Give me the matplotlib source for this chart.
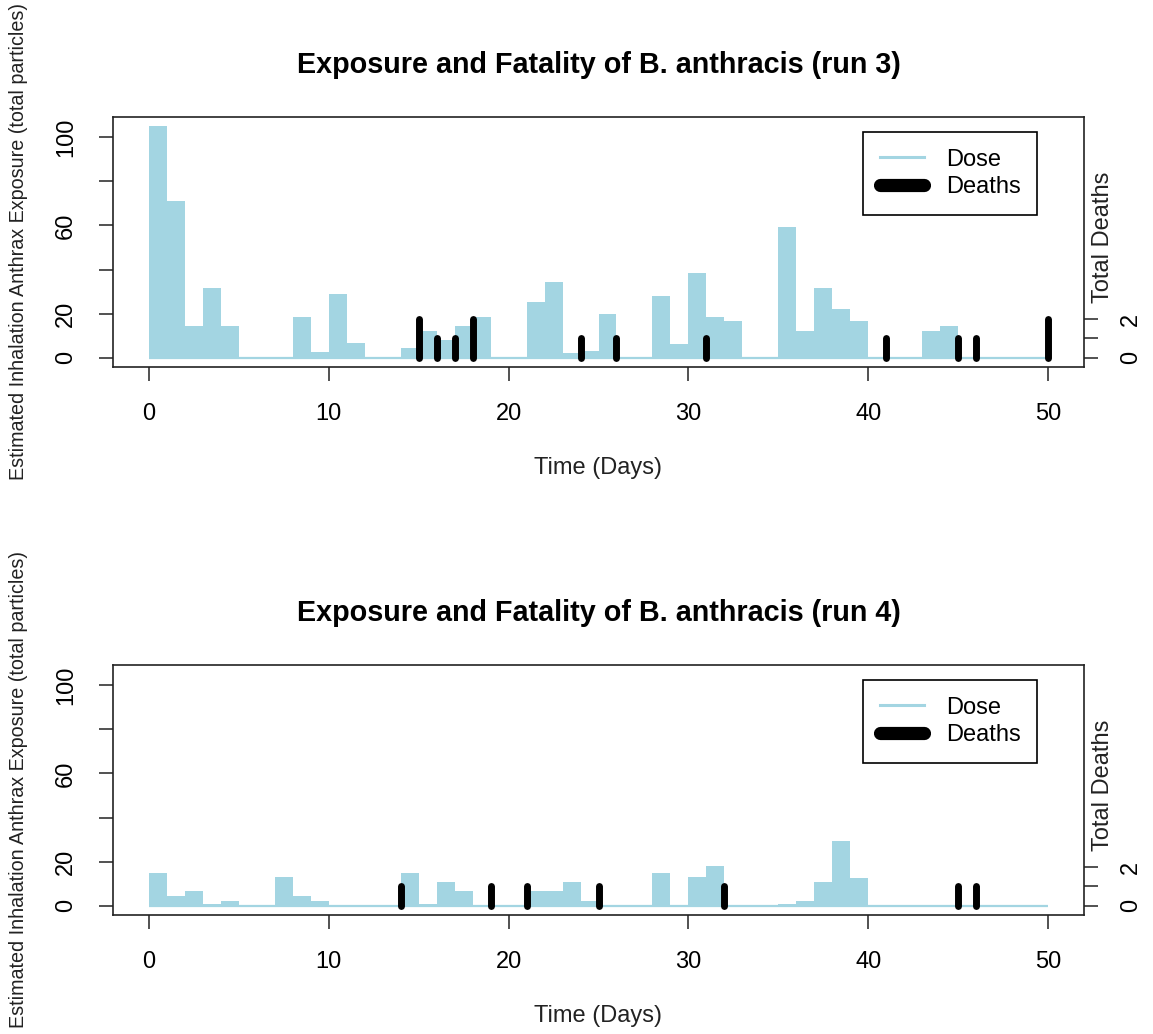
import numpy as np
import matplotlib
matplotlib.use("Agg")
import matplotlib.pyplot as plt
from matplotlib.lines import Line2D

plt.rcParams['font.family'] = ['Liberation Sans', 'DejaVu Sans']

# daily inhalation dose per run, one value per day starting at day 0
days = np.arange(50)
dose_run3 = [105, 71, 14.5, 31.5, 14.5, 0, 0, 0, 18.6, 2.4,
             28.9, 6.5, 0, 0, 4.5, 12.0, 8.0, 14.5, 18.6, 0,
             0, 25.3, 34.2, 2.2, 3.2, 19.8, 0, 0, 28.0, 6.2,
             38.3, 18.6, 16.7, 0, 0, 59.5, 12.0, 31.5, 22.1, 16.7,
             0, 0, 0, 12.3, 14.5, 0, 0, 0, 0, 0]
dose_run4 = [14.8, 4.3, 6.5, 0.8, 2.3, 0, 0, 13.2, 4.3, 2.3,
             0, 0, 0, 0, 14.8, 0.9, 10.6, 6.5, 0, 0,
             0, 6.5, 6.5, 10.6, 2.3, 0, 0, 0, 14.8, 0,
             13.2, 18.2, 0, 0, 0, 0.9, 2.3, 10.6, 29.2, 12.6,
             0, 0, 0, 0, 0, 0, 0, 0, 0, 0]

# deaths per day
death_days_run3 = [15, 16, 17, 18, 24, 26, 31, 41, 45, 46, 50]
deaths_run3 = [2, 1, 1, 2, 1, 1, 1, 1, 1, 1, 2]
death_days_run4 = [14, 19, 21, 25, 32, 45, 46]
deaths_run4 = [1, 1, 1, 1, 1, 1, 1]

runs = [(3, dose_run3, death_days_run3, deaths_run3),
        (4, dose_run4, death_days_run4, deaths_run4)]

DOSE_COL = '#A3D5E2'
W, H = 1153, 1034
BASE = 17


def pad_lim(lo, hi):
    # R-style 4% padding on both ends
    d = (hi - lo) * 0.04
    return lo - d, hi + d


fig = plt.figure(figsize=(W / 100, H / 100), dpi=100)

ax_tops = [117, 665]
for (run, dose, ddays, dcount), top in zip(runs, ax_tops):
    ax = fig.add_axes([113 / W, (H - top - 250) / H, 971 / W, 250 / H])
    ax.bar(days, dose, width=1, align='edge', color=DOSE_COL, linewidth=0)
    ax.hlines(0, 0, 50, color=DOSE_COL, lw=1.6)
    ax.set_xlim(*pad_lim(0, 50))
    ax.set_ylim(*pad_lim(0, 105))
    ax.set_xticks([0, 10, 20, 30, 40, 50])
    ax.set_yticks([0, 20, 40, 60, 80, 100])
    ax.set_yticklabels(['0', '20', '', '60', '', '100'], rotation=90, va='center')
    ax.tick_params(length=10, width=1.1, pad=16, labelsize=BASE, color='#222222')
    for sp in ax.spines.values():
        sp.set_linewidth(1.2)
        sp.set_color('#222222')

    ax.set_title(f'Exposure and Fatality of B. anthracis (run {run})',
                 fontsize=20.7, fontweight='bold', pad=32)
    ax.set_xlabel('Time (Days)', fontsize=BASE, color='#222222')
    ax.xaxis.set_label_coords(0.5, -0.36)
    ax.set_ylabel('Estimated Inhalation Anthrax Exposure (total particles)',
                  fontsize=14.2, color='#222222')
    ax.yaxis.set_label_coords(-0.0875, 0.5)

    # deaths on a secondary axis
    ax2 = ax.twinx()
    ax2.set_ylim(*pad_lim(0, 12))
    dl = ax2.vlines(ddays, 0, dcount, color='black', lw=5)
    dl.set_capstyle('round')
    ax2.set_yticks([0, 1, 2])
    ax2.set_yticklabels(['0', '', '2'], rotation=90, va='center')
    ax2.tick_params(length=10, width=1.1, pad=16, labelsize=BASE, color='#222222')
    for sp in ax2.spines.values():
        sp.set_visible(False)
    ax2.set_ylabel('Total Deaths', fontsize=BASE, color='#222222')
    ax2.yaxis.set_label_coords(1.008, 0.518)

    handles = [Line2D([], [], color=DOSE_COL, lw=2.2),
               Line2D([], [], color='black', lw=9.5, solid_capstyle='round')]
    ax.legend(handles, ['Dose', 'Deaths'], loc='upper right',
              bbox_to_anchor=(1037 / W, 1 - (top + 15) / H),
              bbox_transform=fig.transFigure, borderaxespad=0,
              fontsize=BASE, frameon=True, fancybox=False, edgecolor='black',
              framealpha=1, borderpad=0.7, handlelength=1.9, handletextpad=0.9,
              labelspacing=0.25).get_frame().set_linewidth(1.2)

fig.savefig('out.png', dpi=100)
